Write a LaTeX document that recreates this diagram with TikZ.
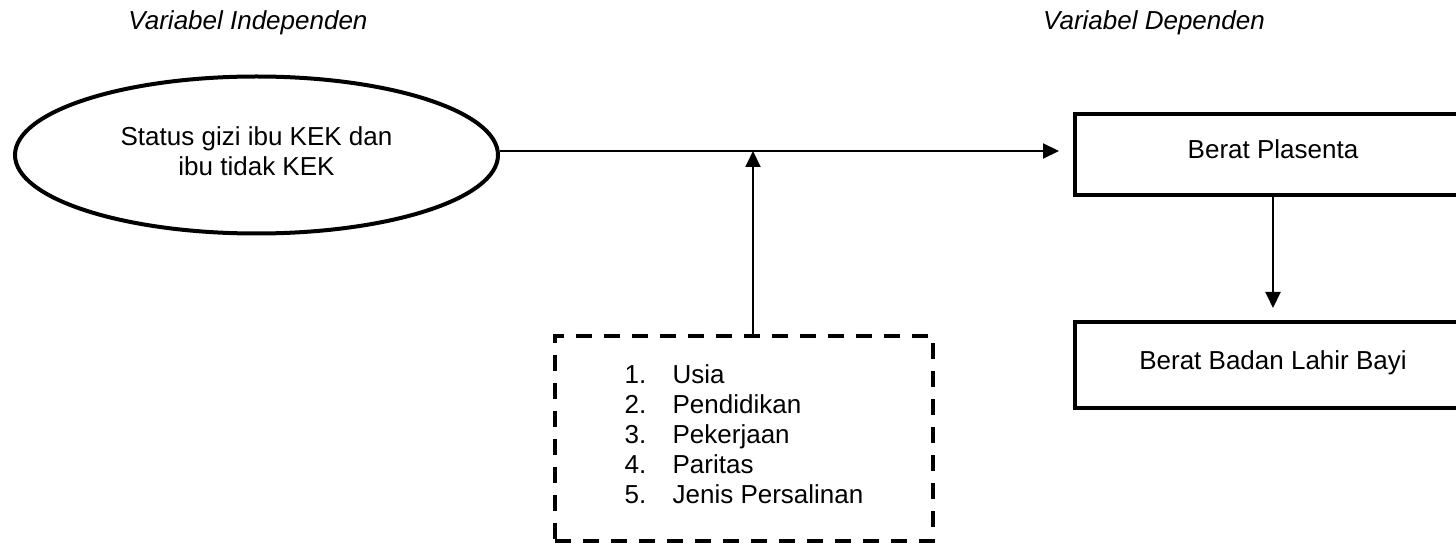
\documentclass[tikz,border=0pt]{standalone}
\usepackage{fontspec}
\setmainfont{Liberation Sans}
\usetikzlibrary{shapes.geometric,arrows.meta}
\begin{document}
\begin{tikzpicture}[x=1pt,y=-1pt,
  txt/.style={font=\fontsize{26}{30}\selectfont},
  heading/.style={font=\fontsize{26}{30}\selectfont\itshape, anchor=base},
  ovalbox/.style={ellipse, draw, line width=4pt, minimum width=483pt, minimum height=157pt, inner sep=0pt, align=center, text depth=7pt, txt},
  solidbox/.style={rectangle, draw, line width=4pt, minimum width=396pt, inner sep=0pt, text depth=10pt, txt},
  dashbox/.style={rectangle, draw, line width=4pt, dash pattern=on 16pt off 12pt, minimum width=378pt, minimum height=205pt, inner sep=0pt, align=left, text depth=8pt, txt},
  arr/.style={line width=2pt, -{Triangle[length=16pt,width=15pt]}}
]
\useasboundingbox (0,0) rectangle (1456,545);

\node[heading] (t1) at (248,30) {Variabel Independen};
\node[heading] (t2) at (1154,30) {Variabel Dependen};

\node[ovalbox] (ell) at (256.5,155) {Status gizi ibu KEK dan\\ibu tidak KEK};

\node[solidbox, minimum height=81pt] (b1) at (1273,154.5) {Berat Plasenta};
\node[solidbox, minimum height=86pt] (b2) at (1273,365) {Berat Badan Lahir Bayi};

\node[dashbox] (db) at (744,438.5) {%
\makebox[48pt][l]{1.}Usia\\
\makebox[48pt][l]{2.}Pendidikan\\
\makebox[48pt][l]{3.}Pekerjaan\\
\makebox[48pt][l]{4.}Paritas\\
\makebox[48pt][l]{5.}Jenis Persalinan};

\coordinate (j) at (753,151);

\draw[arr, shorten >=14pt] (ell.east |- j) -- (b1.west |- j);
\draw[arr] (db.north -| j) -- (j);
\draw[arr, shorten >=12pt] (b1.south) -- (b2.north);
\end{tikzpicture}
\end{document}
